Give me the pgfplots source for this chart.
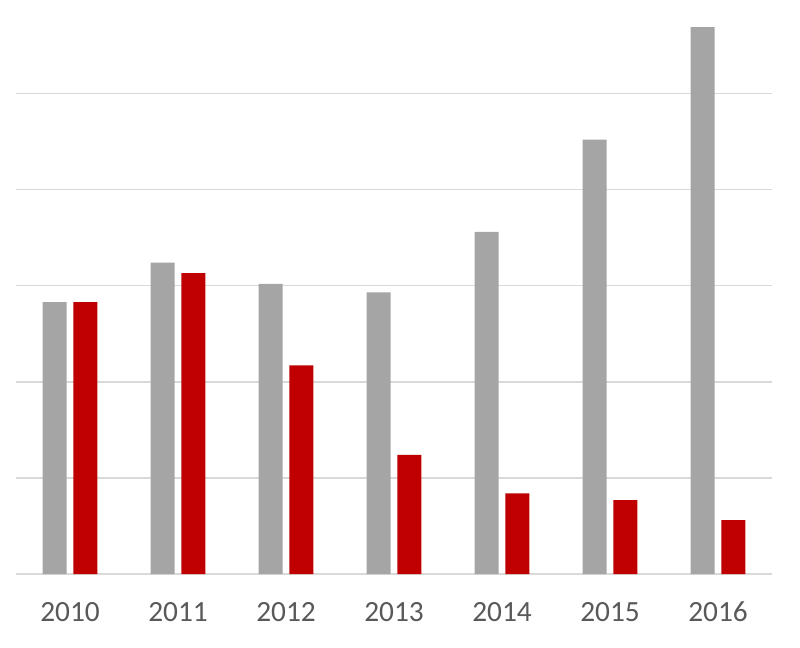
\documentclass[border=0pt]{standalone}
\usepackage{fontspec}
\setmainfont{Carlito}
\usepackage{pgfplots}
\pgfplotsset{compat=1.18}
\definecolor{cgray}{HTML}{A5A5A5}
\definecolor{cred}{HTML}{C00000}
\definecolor{cgrid}{HTML}{D9D9D9}
\definecolor{ctext}{HTML}{595959}
\begin{document}
\begin{tikzpicture}
\path[use as bounding box] (-12pt,-54.75pt) rectangle (588pt,430.5pt);
\begin{axis}[
  scale only axis,
  width=567pt, height=425.24pt,
  xmin=-0.5, xmax=6.5,
  ymin=0, ymax=59,
  axis line style={draw=none},
  xtick={0,1,2,3,4,5,6},
  xticklabels={2010,2011,2012,2013,2014,2015,2016},
  ytick={0,10,20,30,40,50},
  yticklabels={},
  major tick length=0pt,
  ymajorgrids,
  grid style={cgrid, line width=1.1pt},
  xticklabel style={anchor=base, yshift=-35.8pt, font=\fontsize{22}{26}\selectfont, text=ctext},
  ybar, bar width=18pt,
]
\addplot[fill=cgray, draw=none, bar shift=-11.5pt] coordinates {
 (0,28.3) (1,32.4) (2,30.2) (3,29.3) (4,35.6) (5,45.2) (6,56.9)};
\addplot[fill=cred, draw=none, bar shift=11.5pt] coordinates {
 (0,28.3) (1,31.3) (2,21.7) (3,12.4) (4,8.4) (5,7.7) (6,5.6)};
\end{axis}
\end{tikzpicture}
\end{document}
